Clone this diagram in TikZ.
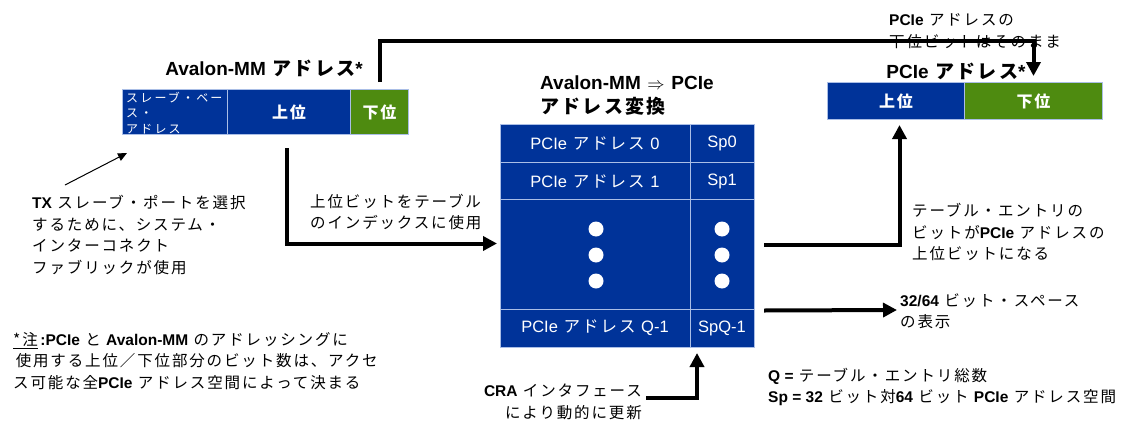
\documentclass[tikz,border=0pt]{standalone}
\usepackage{fontspec}
\setmainfont[LetterSpace=12]{Noto Sans CJK JP}
\newfontfamily\ar{Liberation Sans}
\usetikzlibrary{arrows.meta}
\definecolor{ablue}{RGB}{0,51,153}
\definecolor{agreen}{RGB}{78,139,16}
\definecolor{aline}{RGB}{170,190,230}
\newcommand\Bl[1]{{\ar\bfseries #1}}
\newcommand\Rl[1]{{\ar #1}}
\tikzset{
  cellbox/.style={draw=aline, line width=1pt, text=white, inner sep=0pt,
     font=\fontsize{16}{18}\selectfont\bfseries},
  bluecell/.style={cellbox, fill=ablue},
  greencell/.style={cellbox, fill=agreen},
  tcell/.style={inner sep=0pt, text=white, font=\fontsize{16.5}{18}\selectfont},
  body/.style={inner sep=0pt, align=left, font=\fontsize{15.5}{21.5}\selectfont},
  title/.style={inner sep=0pt, font=\fontsize{19}{24}\selectfont\bfseries},
  thick arrow/.style={line width=4pt, -{Triangle[length=14pt,width=14pt]}},
  dotfill/.style={fill=white, draw=none},
}
\begin{document}
\begin{tikzpicture}[x=1pt,y=-1pt]
\useasboundingbox (0,0) rectangle (1134,423);

% ---- Avalon-MM address (left) ----
\node[title] (avtitle) at (264,68) {\Bl{Avalon-MM} アドレス\Bl{*}};
\node[bluecell, minimum width=105, minimum height=45, anchor=north west] (avbase) at (122,89) {};
\node[inner sep=0pt, anchor=west, align=left, text=white,
      font=\fontsize{12}{15.5}\selectfont\addfontfeature{LetterSpace=18}] (avbasetxt) at (126,113) {スレーブ・ベー\\ス・\\アドレス};
\node[bluecell, minimum width=123, minimum height=45, anchor=north west] (avhi) at (227,89) {上位};
\node[greencell, minimum width=58, minimum height=45, anchor=north west] (avlo) at (350,89) {下位};

% ---- PCIe address (right) ----
\node[title] (pctitle) at (956,71) {\Bl{PCIe} アドレス\Bl{*}};
\node[bluecell, minimum width=137, minimum height=37, anchor=north west] (pchi) at (827,82) {上位};
\node[greencell, minimum width=138, minimum height=37, anchor=north west] (pclo) at (964,82) {下位};
\node[body, anchor=west] (lowlbl) at (889,31) {\Bl{PCIe} アドレスの\\下位ビットはそのまま};

% ---- translation table ----
\node[title, anchor=west, align=left] (tbltitle) at (540,96)
   {\Bl{Avalon-MM} {\ar\mdseries$\Rightarrow$} \Bl{PCIe}\\アドレス変換};
\node[bluecell, minimum width=254, minimum height=223, anchor=north west] (tbl) at (500,124) {};
\draw[draw=aline, line width=1pt] (tbl.north west) ++(190,0) coordinate (cdiv) -- (cdiv |- tbl.south);
\foreach \yy in {162,199,309}{
  \draw[draw=aline, line width=1pt] (tbl.west |- 0,\yy) -- (tbl.east |- 0,\yy);
}
\node[tcell] (r0a) at (595,143) {\Rl{PCIe} アドレス \Rl{0}};
\node[tcell] (r0b) at (722,143) {\Rl{Sp0}};
\node[tcell] (r1a) at (595,181) {\Rl{PCIe} アドレス \Rl{1}};
\node[tcell] (r1b) at (722,181) {\Rl{Sp1}};
\node[tcell] (rqa) at (595,328) {\Rl{PCIe} アドレス \Rl{Q-1}};
\node[tcell] (rqb) at (722,328) {\Rl{SpQ-1}};
\foreach \yy in {229,255,281}{
  \fill[dotfill] (596,\yy) circle (7.5);
  \fill[dotfill] (722,\yy) circle (7.5);
}

% ---- text labels ----
\node[body, anchor=west] (txlbl) at (32,235)
  {\Bl{TX} スレーブ・ポートを選択\\するために、システム・\\インターコネクト\\ファブリックが使用};
\node[body, anchor=west] (idxlbl) at (310,212) {上位ビットをテーブル\\のインデックスに使用};
\node[body, anchor=west] (note) at (13,361)
  {\underline{*注}\,\Bl{:PCIe} と \Bl{Avalon-MM} のアドレッシングに\\
   \,使用する上位／下位部分のビット数は、アクセ\\
   ス可能な全\Bl{PCIe} アドレス空間によって決まる};
\node[body, anchor=west] (uplbl) at (912,232)
  {テーブル・エントリの\\ビットが\Bl{PCIe} アドレスの\\上位ビットになる};
\node[body, anchor=west] (splbl) at (900,311) {\Bl{32/64} ビット・スペース\\の表示};
\node[body, anchor=west] (qlbl) at (768,387)
  {\Bl{Q =} テーブル・エントリ総数\\\Bl{Sp = 32} ビット対\Bl{64} ビット \Bl{PCIe} アドレス空間};
\node[body, anchor=east, align=right] (cralbl) at (642,402) {\Bl{CRA} インタフェース\\により動的に更新};

% ---- connectors ----
\coordinate (txs) at (65,185);
\coordinate (txe) at (127,153);
\draw[line width=1pt, -{Triangle[length=9pt,width=8pt]}] (txs) -- (txe);
\draw[thick arrow] ([xshift=-2.5pt,yshift=-13pt]avhi.south) |- ([xshift=-3pt,yshift=-7.5pt]tbl.west);
\draw[thick arrow] ([yshift=7pt]avlo.north) -- ++(0,-41) -| ([yshift=6pt]pclo.north);
\draw[thick arrow] ([xshift=9pt,yshift=-8.5pt]tbl.east) -| ([xshift=3.5pt,yshift=-5pt]pchi.south);
\draw[thick arrow] ([xshift=9pt,yshift=-74.5pt]tbl.east) -- ([xshift=-3pt,yshift=1pt]splbl.west);
\coordinate (cratip) at (697,353);
\draw[thick arrow] ([xshift=4pt,yshift=4pt]cralbl.east) -| (cratip);
\end{tikzpicture}
\end{document}
